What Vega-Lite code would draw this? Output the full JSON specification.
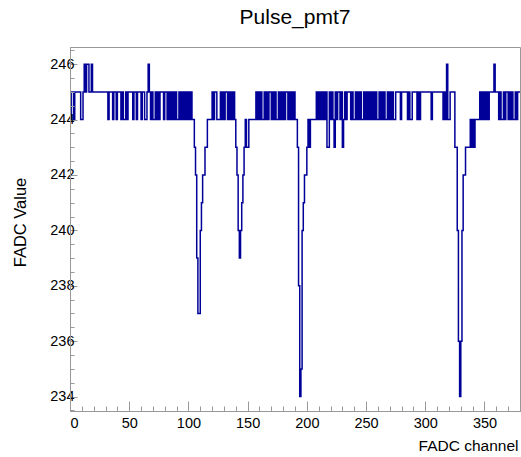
{
"$schema":"https://vega.github.io/schema/vega-lite/v6.json",
"width":450,"height":364,
"autosize":{"type":"none"},
"padding":{"left":70,"top":47,"right":1,"bottom":46},
"background":"white",
"title":{"text":"Pulse_pmt7","font":"Liberation Sans","fontSize":21,"fontWeight":"normal","color":"#000000","anchor":"middle","baseline":"alphabetic","offset":2},
"config":{"view":{"stroke":"#999999","strokeWidth":1},"axis":{"grid":false,"domainColor":"#999999","tickColor":"#999999","labelFont":"Liberation Sans","labelFontSize":14.5,"labelColor":"#000000","titleFont":"Liberation Sans","titleFontWeight":"normal","titleColor":"#000000"}},
"data":{"values":[
{"c":0,"v":244},{"c":1,"v":245},{"c":2,"v":245},{"c":3,"v":244},{"c":4,"v":245},{"c":5,"v":245},{"c":6,"v":245},{"c":7,"v":245},{"c":8,"v":245},{"c":9,"v":244},
{"c":10,"v":244},{"c":11,"v":245},{"c":12,"v":246},{"c":13,"v":245},{"c":14,"v":246},{"c":15,"v":246},{"c":16,"v":245},{"c":17,"v":245},{"c":18,"v":246},{"c":19,"v":245},
{"c":20,"v":245},{"c":21,"v":245},{"c":22,"v":245},{"c":23,"v":245},{"c":24,"v":245},{"c":25,"v":245},{"c":26,"v":245},{"c":27,"v":245},{"c":28,"v":245},{"c":29,"v":245},
{"c":30,"v":245},{"c":31,"v":245},{"c":32,"v":244},{"c":33,"v":245},{"c":34,"v":245},{"c":35,"v":245},{"c":36,"v":244},{"c":37,"v":245},{"c":38,"v":245},{"c":39,"v":244},
{"c":40,"v":245},{"c":41,"v":245},{"c":42,"v":245},{"c":43,"v":244},{"c":44,"v":245},{"c":45,"v":244},{"c":46,"v":244},{"c":47,"v":245},{"c":48,"v":244},{"c":49,"v":245},
{"c":50,"v":245},{"c":51,"v":245},{"c":52,"v":245},{"c":53,"v":244},{"c":54,"v":245},{"c":55,"v":245},{"c":56,"v":244},{"c":57,"v":245},{"c":58,"v":245},{"c":59,"v":245},
{"c":60,"v":244},{"c":61,"v":245},{"c":62,"v":245},{"c":63,"v":244},{"c":64,"v":244},{"c":65,"v":245},{"c":66,"v":246},{"c":67,"v":245},{"c":68,"v":244},{"c":69,"v":245},
{"c":70,"v":244},{"c":71,"v":244},{"c":72,"v":245},{"c":73,"v":244},{"c":74,"v":245},{"c":75,"v":244},{"c":76,"v":245},{"c":77,"v":245},{"c":78,"v":245},{"c":79,"v":244},
{"c":80,"v":245},{"c":81,"v":245},{"c":82,"v":244},{"c":83,"v":245},{"c":84,"v":244},{"c":85,"v":245},{"c":86,"v":244},{"c":87,"v":245},{"c":88,"v":244},{"c":89,"v":245},
{"c":90,"v":244},{"c":91,"v":244},{"c":92,"v":245},{"c":93,"v":244},{"c":94,"v":245},{"c":95,"v":244},{"c":96,"v":245},{"c":97,"v":244},{"c":98,"v":245},{"c":99,"v":244},
{"c":100,"v":245},{"c":101,"v":244},{"c":102,"v":245},{"c":103,"v":244},{"c":104,"v":244},{"c":105,"v":243},{"c":106,"v":242},{"c":107,"v":239},{"c":108,"v":237},{"c":109,"v":237},
{"c":110,"v":240},{"c":111,"v":241},{"c":112,"v":242},{"c":113,"v":242},{"c":114,"v":243},{"c":115,"v":243},{"c":116,"v":244},{"c":117,"v":244},{"c":118,"v":244},{"c":119,"v":244},
{"c":120,"v":245},{"c":121,"v":244},{"c":122,"v":245},{"c":123,"v":245},{"c":124,"v":244},{"c":125,"v":244},{"c":126,"v":244},{"c":127,"v":245},{"c":128,"v":244},{"c":129,"v":245},
{"c":130,"v":244},{"c":131,"v":245},{"c":132,"v":245},{"c":133,"v":244},{"c":134,"v":245},{"c":135,"v":244},{"c":136,"v":245},{"c":137,"v":244},{"c":138,"v":245},{"c":139,"v":244},
{"c":140,"v":243},{"c":141,"v":242},{"c":142,"v":240},{"c":143,"v":239},{"c":144,"v":240},{"c":145,"v":241},{"c":146,"v":242},{"c":147,"v":243},{"c":148,"v":244},{"c":149,"v":243},
{"c":150,"v":243},{"c":151,"v":244},{"c":152,"v":244},{"c":153,"v":244},{"c":154,"v":244},{"c":155,"v":244},{"c":156,"v":244},{"c":157,"v":245},{"c":158,"v":244},{"c":159,"v":245},
{"c":160,"v":244},{"c":161,"v":245},{"c":162,"v":244},{"c":163,"v":244},{"c":164,"v":245},{"c":165,"v":244},{"c":166,"v":245},{"c":167,"v":244},{"c":168,"v":245},{"c":169,"v":245},
{"c":170,"v":244},{"c":171,"v":245},{"c":172,"v":244},{"c":173,"v":245},{"c":174,"v":244},{"c":175,"v":244},{"c":176,"v":245},{"c":177,"v":244},{"c":178,"v":245},{"c":179,"v":244},
{"c":180,"v":245},{"c":181,"v":244},{"c":182,"v":245},{"c":183,"v":245},{"c":184,"v":244},{"c":185,"v":245},{"c":186,"v":244},{"c":187,"v":245},{"c":188,"v":244},{"c":189,"v":245},
{"c":190,"v":244},{"c":191,"v":244},{"c":192,"v":243},{"c":193,"v":238},{"c":194,"v":234},{"c":195,"v":235},{"c":196,"v":240},{"c":197,"v":241},{"c":198,"v":242},{"c":199,"v":242},
{"c":200,"v":243},{"c":201,"v":244},{"c":202,"v":243},{"c":203,"v":244},{"c":204,"v":244},{"c":205,"v":244},{"c":206,"v":244},{"c":207,"v":244},{"c":208,"v":245},{"c":209,"v":244},
{"c":210,"v":245},{"c":211,"v":244},{"c":212,"v":245},{"c":213,"v":244},{"c":214,"v":245},{"c":215,"v":244},{"c":216,"v":245},{"c":217,"v":243},{"c":218,"v":243},{"c":219,"v":245},
{"c":220,"v":244},{"c":221,"v":245},{"c":222,"v":244},{"c":223,"v":243},{"c":224,"v":245},{"c":225,"v":244},{"c":226,"v":245},{"c":227,"v":245},{"c":228,"v":244},{"c":229,"v":245},
{"c":230,"v":243},{"c":231,"v":244},{"c":232,"v":245},{"c":233,"v":244},{"c":234,"v":245},{"c":235,"v":245},{"c":236,"v":245},{"c":237,"v":244},{"c":238,"v":245},{"c":239,"v":244},
{"c":240,"v":244},{"c":241,"v":245},{"c":242,"v":244},{"c":243,"v":245},{"c":244,"v":244},{"c":245,"v":245},{"c":246,"v":244},{"c":247,"v":244},{"c":248,"v":245},{"c":249,"v":244},
{"c":250,"v":245},{"c":251,"v":244},{"c":252,"v":245},{"c":253,"v":244},{"c":254,"v":245},{"c":255,"v":244},{"c":256,"v":245},{"c":257,"v":244},{"c":258,"v":245},{"c":259,"v":244},
{"c":260,"v":244},{"c":261,"v":245},{"c":262,"v":244},{"c":263,"v":245},{"c":264,"v":244},{"c":265,"v":245},{"c":266,"v":244},{"c":267,"v":244},{"c":268,"v":245},{"c":269,"v":244},
{"c":270,"v":245},{"c":271,"v":244},{"c":272,"v":245},{"c":273,"v":244},{"c":274,"v":244},{"c":275,"v":245},{"c":276,"v":245},{"c":277,"v":245},{"c":278,"v":245},{"c":279,"v":244},
{"c":280,"v":245},{"c":281,"v":245},{"c":282,"v":245},{"c":283,"v":245},{"c":284,"v":245},{"c":285,"v":244},{"c":286,"v":245},{"c":287,"v":244},{"c":288,"v":244},{"c":289,"v":245},
{"c":290,"v":245},{"c":291,"v":245},{"c":292,"v":245},{"c":293,"v":244},{"c":294,"v":245},{"c":295,"v":244},{"c":296,"v":245},{"c":297,"v":245},{"c":298,"v":245},{"c":299,"v":245},
{"c":300,"v":245},{"c":301,"v":245},{"c":302,"v":245},{"c":303,"v":245},{"c":304,"v":245},{"c":305,"v":244},{"c":306,"v":245},{"c":307,"v":245},{"c":308,"v":245},{"c":309,"v":245},
{"c":310,"v":245},{"c":311,"v":245},{"c":312,"v":245},{"c":313,"v":245},{"c":314,"v":245},{"c":315,"v":244},{"c":316,"v":245},{"c":317,"v":244},{"c":318,"v":246},{"c":319,"v":244},
{"c":320,"v":244},{"c":321,"v":245},{"c":322,"v":245},{"c":323,"v":245},{"c":324,"v":245},{"c":325,"v":243},{"c":326,"v":243},{"c":327,"v":240},{"c":328,"v":236},{"c":329,"v":234},
{"c":330,"v":236},{"c":331,"v":240},{"c":332,"v":242},{"c":333,"v":242},{"c":334,"v":243},{"c":335,"v":243},{"c":336,"v":243},{"c":337,"v":243},{"c":338,"v":244},{"c":339,"v":243},
{"c":340,"v":244},{"c":341,"v":243},{"c":342,"v":244},{"c":343,"v":244},{"c":344,"v":244},{"c":345,"v":244},{"c":346,"v":245},{"c":347,"v":244},{"c":348,"v":245},{"c":349,"v":244},
{"c":350,"v":245},{"c":351,"v":244},{"c":352,"v":245},{"c":353,"v":244},{"c":354,"v":245},{"c":355,"v":245},{"c":356,"v":245},{"c":357,"v":245},{"c":358,"v":246},{"c":359,"v":245},
{"c":360,"v":245},{"c":361,"v":245},{"c":362,"v":244},{"c":363,"v":245},{"c":364,"v":244},{"c":365,"v":244},{"c":366,"v":245},{"c":367,"v":244},{"c":368,"v":245},{"c":369,"v":245},
{"c":370,"v":244},{"c":371,"v":245},{"c":372,"v":244},{"c":373,"v":245},{"c":374,"v":244},{"c":375,"v":244},{"c":376,"v":245},{"c":377,"v":244},{"c":378,"v":245},{"c":379,"v":245},
{"c":380,"v":245}
]},
"layer":[
{"mark":{"type":"line","opacity":0},
 "encoding":{
  "x":{"field":"c","type":"quantitative","scale":{"domain":[0,380],"nice":false,"zero":false},
       "axis":{"orient":"bottom","values":[0,10,20,30,40,50,60,70,80,90,100,110,120,130,140,150,160,170,180,190,200,210,220,230,240,250,260,270,280,290,300,310,320,330,340,350,360,370,380],"tickSize":-5,"labels":false,"title":null,"domain":false,"zindex":1}},
  "y":{"field":"v","type":"quantitative","scale":{"domain":[233.48,246.62],"nice":false,"zero":false},
       "axis":{"orient":"left","values":[233.5,234,234.5,235,235.5,236,236.5,237,237.5,238,238.5,239,239.5,240,240.5,241,241.5,242,242.5,243,243.5,244,244.5,245,245.5,246,246.5],"tickSize":-4,"labels":false,"title":null,"domain":false,"zindex":1}}
 }},
{"mark":{"type":"line","interpolate":"step-after","color":"#000099","strokeWidth":1.5},
 "encoding":{
  "x":{"field":"c","type":"quantitative","scale":{"domain":[0,380],"nice":false,"zero":false},
       "axis":{"orient":"bottom","values":[0,50,100,150,200,250,300,350],"tickSize":-10,"labelPadding":15,"labelFontSize":14.5,"title":"FADC channel","titleFontSize":15.5,"titleAlign":"right","titleAnchor":"end","titleX":448,"titleY":39,"titleBaseline":"alphabetic","zindex":1}},
  "y":{"field":"v","type":"quantitative","scale":{"domain":[233.48,246.62],"nice":false,"zero":false},
       "axis":{"orient":"left","values":[234,236,238,240,242,244,246],"tickSize":-7,"labelPadding":3,"title":"FADC Value","titleFontSize":16.5,"titleAngle":-90,"titleAlign":"center","titleX":-45,"titleY":175,"titleBaseline":"alphabetic","zindex":1}}
 }}
],
"resolve":{"axis":{"x":"independent","y":"independent"}}
}
